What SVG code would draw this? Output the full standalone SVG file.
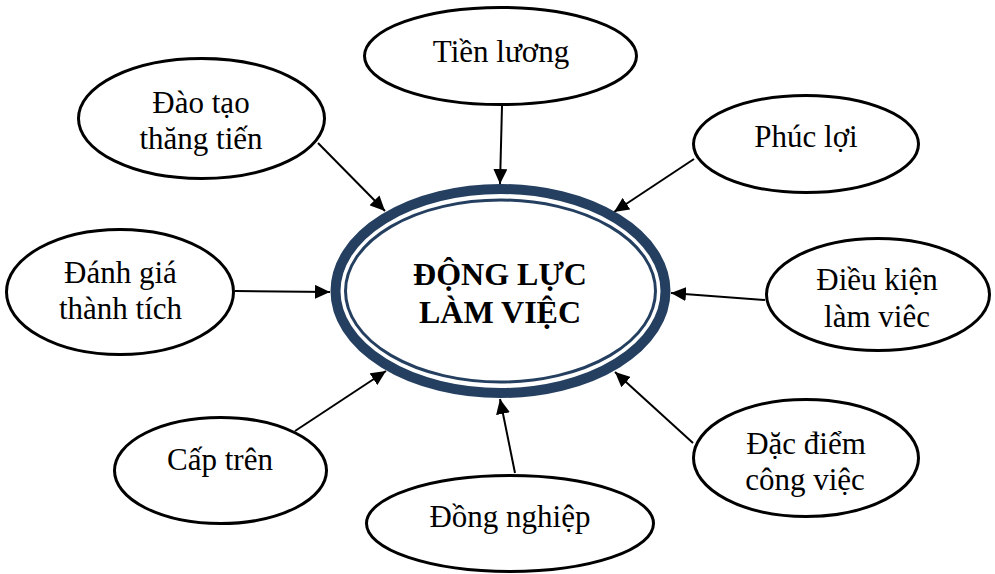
<svg xmlns="http://www.w3.org/2000/svg" width="995" height="574" viewBox="0 0 995 574">
<style>
.node{fill:#fff;stroke:#000;stroke-width:3}
.lbl{font-family:"Liberation Serif","Times New Roman",serif;font-size:31px;fill:#000;text-anchor:middle}
.ctr{font-family:"Liberation Serif","Times New Roman",serif;font-size:32px;font-weight:bold;fill:#000;text-anchor:middle}
.conn{stroke:#000;stroke-width:2;fill:none;marker-end:url(#ah)}
</style>
<defs>
<marker id="ah" markerUnits="userSpaceOnUse" markerWidth="16" markerHeight="14" refX="15" refY="7" orient="auto">
<path d="M0,0 L15,7 L0,14 Z" fill="#000"/>
</marker>
</defs>
<rect width="995" height="574" fill="#fff"/>
<g id="connectors">
<line class="conn" x1="502" y1="106" x2="500" y2="184"/>
<line class="conn" x1="318" y1="143" x2="385" y2="211"/>
<line class="conn" x1="235" y1="291" x2="330" y2="292"/>
<line class="conn" x1="694" y1="159" x2="614" y2="212"/>
<line class="conn" x1="765" y1="300" x2="671" y2="293"/>
<line class="conn" x1="693" y1="443" x2="615" y2="372"/>
<line class="conn" x1="515" y1="473" x2="500" y2="399"/>
<line class="conn" x1="295" y1="431" x2="386" y2="371"/>
</g>
<g id="center">
<ellipse cx="500.5" cy="291" rx="165" ry="102" fill="#fff" stroke="#243F60" stroke-width="10"/>
<ellipse cx="500.5" cy="291" rx="155" ry="91" fill="none" stroke="#243F60" stroke-width="3"/>
<text class="ctr" x="500" y="285">ĐỘNG LỰC</text>
<text class="ctr" x="500" y="323">LÀM VIỆC</text>
</g>
<g id="tien-luong">
<ellipse class="node" cx="500.5" cy="56" rx="136" ry="48.5"/>
<text class="lbl" x="501" y="62">Tiền lương</text>
</g>
<g id="dao-tao">
<ellipse class="node" cx="201.5" cy="118.5" rx="123" ry="60"/>
<text class="lbl" x="201" y="113">Đào tạo</text>
<text class="lbl" x="201" y="149">thăng tiến</text>
</g>
<g id="danh-gia">
<ellipse class="node" cx="120" cy="292" rx="113.5" ry="62.5"/>
<text class="lbl" x="120.5" y="283">Đánh giá</text>
<text class="lbl" x="120.5" y="319">thành tích</text>
</g>
<g id="phuc-loi">
<ellipse class="node" cx="806" cy="144" rx="112.5" ry="48.5"/>
<text class="lbl" x="806" y="147">Phúc lợi</text>
</g>
<g id="dieu-kien">
<ellipse class="node" cx="878" cy="294.5" rx="111.5" ry="56"/>
<text class="lbl" x="877" y="290">Điều kiện</text>
<text class="lbl" x="877" y="327">làm viêc</text>
</g>
<g id="dac-diem">
<ellipse class="node" cx="806" cy="458" rx="112.5" ry="58.5"/>
<text class="lbl" x="806" y="454">Đặc điểm</text>
<text class="lbl" x="805" y="490">công việc</text>
</g>
<g id="dong-nghiep">
<ellipse class="node" cx="510" cy="523.5" rx="143.5" ry="48"/>
<text class="lbl" x="510" y="527">Đồng nghiệp</text>
</g>
<g id="cap-tren">
<ellipse class="node" cx="220.5" cy="470.5" rx="106" ry="53"/>
<text class="lbl" x="220" y="470">Cấp trên</text>
</g>
</svg>
